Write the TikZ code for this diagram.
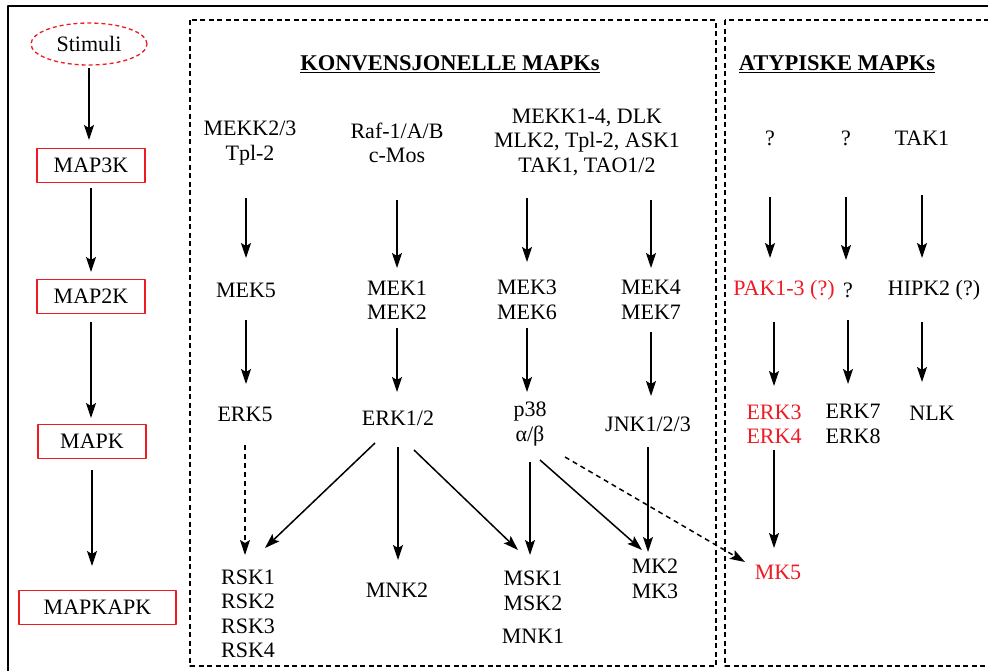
\documentclass[tikz,border=0pt]{standalone}
\usepackage{fontspec}
\setmainfont{Liberation Serif}
\usetikzlibrary{arrows.meta,shapes.geometric}
\definecolor{signalrod}{RGB}{237,28,36}
\tikzset{
  txt/.style={font=\fontsize{22}{24.5}\selectfont, align=center, inner sep=0pt},
  rodtxt/.style={txt, text=signalrod},
  nivaa/.style={txt, draw=signalrod, line width=1.3pt, minimum height=34pt},
  tittel/.style={txt, font=\fontsize{22.5}{24}\selectfont\bfseries},
  pil/.style={-{Stealth[length=15pt,width=10pt,inset=3pt]}, line width=1.5pt},
  stiplet/.style={pil, dash pattern=on 5pt off 4pt},
  ramme/.style={line width=1.4pt, dash pattern=on 5pt off 3.5pt},
}
\begin{document}
\begin{tikzpicture}[x=1pt,y=-1pt,line join=round]
  \useasboundingbox (0,0) rectangle (988,670);
  \clip (0,0) rectangle (988,670);

  % Outer frame and the two dashed groups.
  \draw[line width=1.8pt] (8,6) rectangle (1010,690);
  \draw[ramme] (190,20) rectangle (716,666);
  \draw[ramme] (725,20) rectangle (1010,666);

  % The generic cascade on the left.
  \node[txt, ellipse, draw=signalrod, line width=1.3pt, dash pattern=on 4pt off 3pt,
        minimum width=116pt, minimum height=42pt] (stimuli) at (89,44) {Stimuli};
  \node[nivaa, minimum width=108pt] (map3k) at (91,165.5) {MAP3K};
  \node[nivaa, minimum width=108pt] (map2k) at (91,296.5) {MAP2K};
  \node[nivaa, minimum width=108pt] (mapk) at (92,441.5) {MAPK};
  \node[nivaa, minimum width=157pt] (mapkapk) at (97.5,607.5) {MAPKAPK};

  \draw[pil, shorten <=24pt, shorten >=25.5pt] (stimuli.center) -- (stimuli.center |- map3k.center);
  \draw[pil, shorten <=22.5pt, shorten >=24.5pt] (map3k.center) -- (map3k.center |- map2k.center);
  \draw[pil, shorten <=25.5pt, shorten >=23.5pt] (map2k.center) -- (map2k.center |- mapk.center);
  \draw[pil, shorten <=28.5pt, shorten >=41.5pt] (mapk.center) -- (mapk.center |- mapkapk.center);

  % Conventional MAPKs.
  \node[tittel] (konv) at (450,64) {\underline{KONVENSJONELLE MAPKs}};

  \node[txt] (mekk23) at (250,143) {MEKK2/3\\Tpl-2};
  \node[txt] (raf) at (397,143) {Raf-1/A/B\\c-Mos};
  \node[txt] (mekk14) at (587,142) {MEKK1-4, DLK\\MLK2, Tpl-2, ASK1\\TAK1, TAO1/2};

  \node[txt] (mek5) at (246,290) {MEK5};
  \node[txt] (mek12) at (397,300) {MEK1\\MEK2};
  \node[txt] (mek36) at (527,300) {MEK3\\MEK6};
  \node[txt] (mek47) at (651,300) {MEK4\\MEK7};

  \node[txt] (erk5) at (245,414) {ERK5};
  \node[txt] (erk12) at (398,418) {ERK1/2};
  \node[txt] (p38) at (530,424) {p38\\α/β};
  \node[txt] (jnk) at (648,424) {JNK1/2/3};

  \node[txt] (rsk) at (248,614) {RSK1\\RSK2\\RSK3\\RSK4};
  \node[txt] (mnk2) at (397,590) {MNK2};
  \node[txt] (msk) at (533,591) {MSK1\\MSK2};
  \node[txt] (mnk1) at (533,636) {MNK1};
  \node[txt] (mk23) at (655,579) {MK2\\MK3};

  \draw[pil, shorten <=55pt, shorten >=32pt] (mek5.center |- mekk23.center) -- (mek5.center);
  \draw[pil, shorten <=30pt, shorten >=30pt] (mek5.center) -- (mek5.center |- erk5.center);
  \draw[stiplet, shorten <=31pt, shorten >=59pt] (erk5.center) -- (erk5.center |- rsk.center);

  \draw[pil, shorten <=57pt, shorten >=32pt] (raf.center) -- (raf.center |- mek12.center);
  \draw[pil, shorten <=28pt, shorten >=26pt] (mek12.center) -- (mek12.center |- erk12.center);
  \draw[pil] ([shift={(-23,25)}]erk12.center) -- ([shift={(17,-66)}]rsk.center);
  \draw[pil, shorten <=29pt, shorten >=30pt] (erk12.center) -- (erk12.center |- mnk2.center);
  \draw[pil] ([shift={(16,32)}]erk12.center) -- ([shift={(-15,-41)}]msk.center);

  \draw[pil, shorten <=56pt, shorten >=38pt] (mek36.center |- mekk14.center) -- (mek36.center);
  \draw[pil, shorten <=28pt, shorten >=32pt] (mek36.center) -- (mek36.center |- p38.center);
  \draw[pil, shorten <=38pt, shorten >=36pt] (p38.center) -- (p38.center |- msk.center);
  \draw[pil] ([shift={(10,36)}]p38.center) -- ([shift={(-13,-29)}]mk23.center);

  \draw[pil, shorten <=58pt, shorten >=32pt] (mek47.center |- mekk14.center) -- (mek47.center);
  \draw[pil, shorten <=32pt, shorten >=28pt] (mek47.center) -- (mek47.center |- jnk.center);
  \draw[pil, shorten <=23pt, shorten >=27pt] (jnk.center) -- (jnk.center |- mk23.center);

  % Atypical MAPKs.
  \node[tittel] (atyp) at (837,64) {\underline{ATYPISKE MAPKs}};

  \node[txt] (q1) at (770,138) {?};
  \node[txt] (q2) at (846,138) {?};
  \node[txt] (tak1) at (922,138) {TAK1};

  \node[rodtxt] (pak) at (784,290) {PAK1-3 (?)};
  \node[txt] (q3) at (848,290) {?};
  \node[txt] (hipk2) at (934,290) {HIPK2 (?)};

  \node[rodtxt] (erk34) at (774,424) {ERK3\\ERK4};
  \node[txt] (erk78) at (853,424) {ERK7\\ERK8};
  \node[txt] (nlk) at (932,413) {NLK};
  \node[rodtxt] (mk5) at (778,572) {MK5};

  \draw[pil, shorten <=59pt, shorten >=32pt] (q1.center) -- (q1.center |- pak.center);
  \draw[pil, shorten <=59pt, shorten >=30pt] (q2.center) -- (q2.center |- q3.center);
  \draw[pil, shorten <=57pt, shorten >=32pt] (tak1.center) -- (tak1.center |- hipk2.center);
  \draw[pil, shorten <=32pt, shorten >=38pt] (erk34.center |- pak.center) -- (erk34.center);
  \draw[pil, shorten <=30pt, shorten >=40pt] (q3.center) -- (q3.center |- erk78.center);
  \draw[pil, shorten <=32pt, shorten >=31pt] (tak1.center |- hipk2.center) -- (tak1.center |- nlk.center);
  \draw[pil, shorten <=26pt, shorten >=24pt] (erk34.center) -- (erk34.center |- mk5.center);

  % p38 also feeds MK5 (dashed).
  \draw[stiplet] ([shift={(35,33)}]p38.center) -- ([shift={(-33,-10)}]mk5.center);
\end{tikzpicture}
\end{document}
